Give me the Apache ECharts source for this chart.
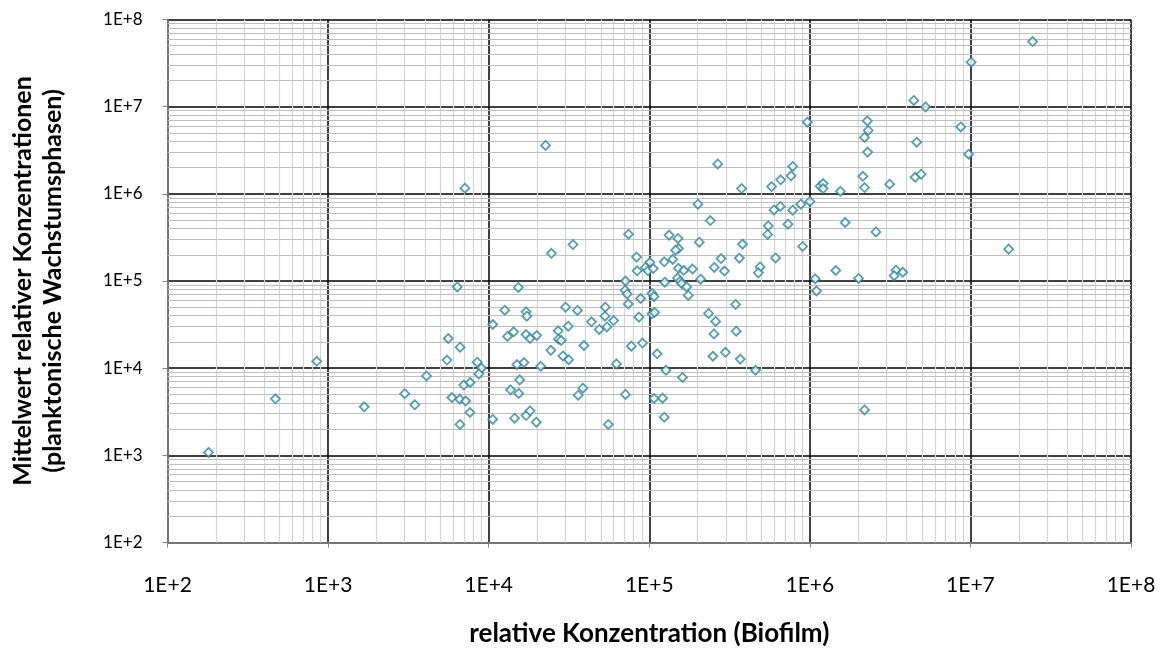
<!DOCTYPE html>
<html><head><meta charset="utf-8">
<script src="https://cdn.jsdelivr.net/npm/echarts@6/dist/echarts.min.js"></script>
<style>html,body{margin:0;padding:0;background:#fff}#c{width:1169px;height:649px}</style>
</head><body><div id="c"></div>
<script>
const xTitle = 'relative Konzentration (Biofilm)';
const yTitle = 'Mittelwert relativer Konzentrationen\n(planktonische Wachstumsphasen)';
const axisMin = 1e2;
const axisMax = 1e8;
const decades = [1e2, 1e3, 1e4, 1e5, 1e6, 1e7];
const minorMultipliers = [2, 3, 4, 5, 6, 7, 8, 9];

// relative Konzentration (Biofilm)
const biofilm = [
  180, 470, 850, 1680, 3000, 3470, 4100, 5500, 5900, 6600,
  7200, 7640, 6620, 7000, 7670, 8480, 9020, 8690, 10600, 15000,
  16600, 21100, 15600, 13700, 15400, 14500, 17100, 18100, 19800, 31500,
  38600, 36100, 62500, 71100, 55600, 127000, 161000, 107000, 121000, 124000,
  369000, 459000, 2190000, 376000, 578000, 658000, 201000, 240000, 598000, 655000,
  782000, 879000, 1000000, 731000, 551000, 546000, 902000, 612000, 381000, 364000,
  280000, 254000, 294000, 490000, 478000, 205000, 74300, 133000, 151000, 152000,
  146000, 83400, 124000, 140000, 101000, 94800, 98200, 106000, 84100, 152000,
  164000, 186000, 150000, 156000, 159000, 171000, 175000, 209000, 125000, 71100,
  70800, 72900, 88300, 104000, 107000, 74000, 86300, 104000, 108000, 77300,
  90800, 112000, 33500, 24600, 15300, 12600, 17100, 17300, 10600, 13100,
  14300, 17100, 18100, 19900, 30100, 35700, 27100, 31300, 27200, 28300,
  39200, 24400, 29000, 53200, 53000, 43700, 48800, 54500, 60000, 234000,
  259000, 253000, 345000, 348000, 249000, 298000, 1160000, 1210000, 1210000, 1550000,
  2190000, 3140000, 4520000, 1660000, 2580000, 1450000, 2010000, 1080000, 1100000, 3440000,
  3350000, 3790000, 17300000, 24400000, 10100000, 4440000, 5260000, 965000, 2280000, 2310000,
  2190000, 2290000, 4630000, 8710000, 9750000, 2140000, 4930000, 22600, 267000, 764000,
  782000, 7110, 6370, 5600, 6640
];
// Mittelwert relativer Konzentrationen (planktonische Wachstumsphasen)
const planktonic = [
  1080, 4450, 12000, 3600, 5100, 3800, 8150, 12400, 4600, 4400,
  4200, 3100, 2260, 6400, 6850, 11700, 10000, 8600, 2580, 11000,
  11600, 10500, 7340, 5640, 5130, 2670, 2860, 3240, 2400, 12500,
  5890, 4900, 11200, 4990, 2260, 9480, 7820, 4490, 4530, 2740,
  12700, 9480, 3320, 1150000, 1210000, 1450000, 760000, 494000, 654000, 716000,
  649000, 760000, 817000, 449000, 429000, 342000, 249000, 184000, 264000, 183000,
  181000, 143000, 130000, 145000, 124000, 279000, 344000, 336000, 308000, 236000,
  226000, 188000, 166000, 177000, 164000, 143000, 131000, 139000, 131000, 140000,
  132000, 137000, 108000, 99500, 93600, 85500, 68200, 105000, 96900, 100000,
  78500, 71100, 63000, 71900, 66400, 54600, 38500, 42000, 43600, 17900,
  19400, 14600, 262000, 208000, 84300, 46200, 44300, 39500, 31700, 23100,
  26100, 24300, 21900, 23700, 50100, 45900, 26800, 30300, 21500, 20800,
  18200, 16000, 13800, 50100, 39500, 34000, 27800, 29700, 35200, 42400,
  34400, 24700, 53800, 26600, 13700, 15200, 1220000, 1310000, 1150000, 1070000,
  1180000, 1290000, 1550000, 469000, 366000, 132000, 107000, 106000, 77000, 133000,
  115000, 126000, 232000, 55900000, 32400000, 11800000, 9940000, 6630000, 6870000, 5330000,
  4430000, 3010000, 3910000, 5860000, 2850000, 1590000, 1680000, 3590000, 2200000, 1610000,
  2060000, 1160000, 85500, 21900, 17400
];

const points = biofilm.map((x, i) => [x, planktonic[i]]);

const minorValues = [];
decades.forEach(d => minorMultipliers.forEach(m => minorValues.push(d * m)));

const minorLines = [];
minorValues.forEach(v => minorLines.push({ xAxis: v, lineStyle: { color: '#d6d6d6' } }));
minorValues.forEach(v => minorLines.push({ yAxis: v, lineStyle: { color: '#bfbfbf' } }));

const fmt = v => '1E+' + Math.round(Math.log10(v));
const font = 'Lato';

const chart = echarts.init(document.getElementById('c'), null, { renderer: 'canvas' });
chart.setOption({
  animation: false,
  backgroundColor: '#ffffff',
  grid: { left: 167.5, top: 19.5, width: 963.5, height: 523, containLabel: false, outerBoundsMode: 'none' },
  xAxis: {
    type: 'log', logBase: 10, min: axisMin, max: axisMax,
    name: xTitle, nameLocation: 'middle', nameGap: 78,
    nameTextStyle: { fontFamily: font, fontWeight: 'bold', fontSize: 26, color: '#000' },
    axisLine: { show: true, onZero: false, lineStyle: { color: '#868686', width: 1.5 } },
    axisTick: { show: true, inside: false, length: 5, lineStyle: { color: '#868686' } },
    axisLabel: { formatter: fmt, fontFamily: font, fontSize: 21, color: '#000', margin: 32 },
    splitLine: { show: true, lineStyle: { color: '#000', width: 1.5 } },
    minorTick: { show: false }, minorSplitLine: { show: false }
  },
  yAxis: {
    type: 'log', logBase: 10, min: axisMin, max: axisMax,
    name: yTitle, nameLocation: 'middle', nameGap: 100, nameRotate: 90,
    nameTextStyle: { fontFamily: font, fontWeight: 'bold', fontSize: 25, color: '#000', lineHeight: 30, align: 'center' },
    axisLine: { show: true, onZero: false, lineStyle: { color: '#868686', width: 1.5 } },
    axisTick: { show: true, inside: false, length: 5, lineStyle: { color: '#868686' } },
    axisLabel: { formatter: fmt, fontFamily: font, fontSize: 17, color: '#000', margin: 25 },
    splitLine: { show: true, lineStyle: { color: '#000', width: 1.5 } },
    minorTick: { show: false }, minorSplitLine: { show: false }
  },
  series: [
    {
      type: 'scatter', data: [], z: 1, silent: true,
      markLine: {
        silent: true, symbol: ['none', 'none'], animation: false,
        label: { show: false },
        lineStyle: { type: 'solid', width: 1.2, color: '#d0d0d0' },
        emphasis: { disabled: true },
        data: minorLines
      }
    },
    {
      type: 'scatter', data: points, z: 5,
      symbol: 'diamond', symbolSize: 9,
      itemStyle: { color: '#ffffff', borderColor: '#31859C', borderWidth: 1.8 }
    }
  ]
});
</script>
</body></html>
